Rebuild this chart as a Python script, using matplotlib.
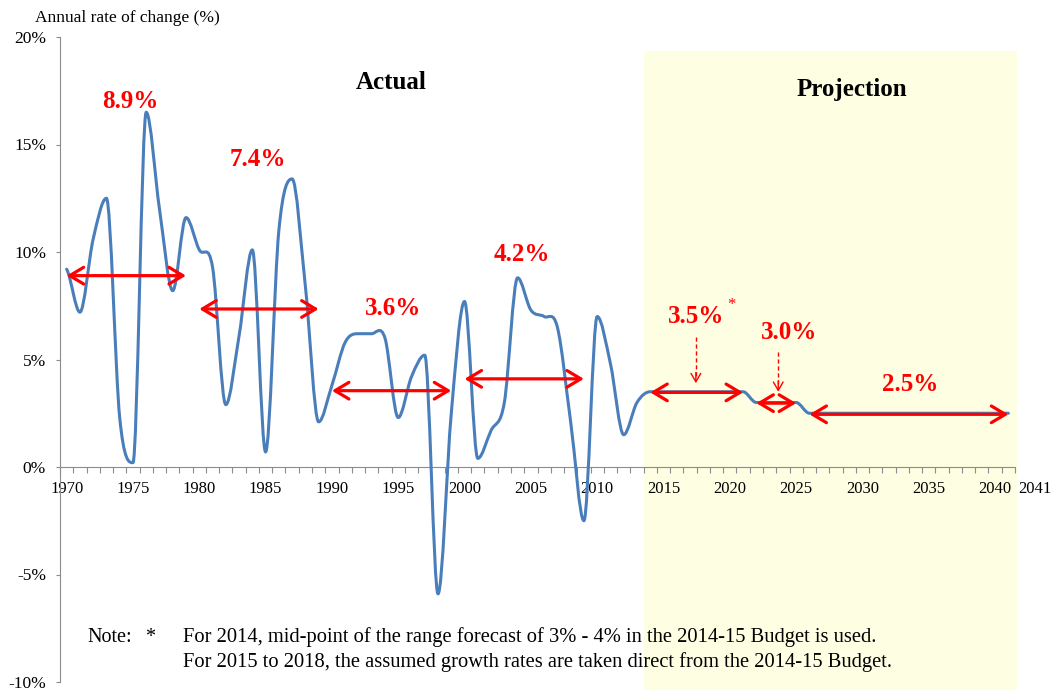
import matplotlib
matplotlib.use("Agg")
import matplotlib.pyplot as plt
from matplotlib.path import Path
from matplotlib.patches import PathPatch, Rectangle

# ---------------- data ----------------
years = list(range(1970, 2042))
growth = [9.2, 7.2, 10.6, 12.5, 2.3, 0.2, 16.5, 12.0, 8.2, 11.6,      # 1970-79
          10.1, 9.3, 2.9, 6.1, 10.1, 0.7, 11.0, 13.4, 8.4, 2.1,       # 1980-89
          3.8, 5.8, 6.2, 6.2, 6.0, 2.3, 4.2, 5.2, -5.9, 2.5,          # 1990-99
          7.7, 0.4, 1.7, 3.0, 8.8, 7.3, 7.0, 6.5, 2.1, -2.5,          # 2000-09
          7.0, 4.8, 1.5, 3.0,                                         # 2010-13
          3.5, 3.5, 3.5, 3.5, 3.5, 3.5, 3.5, 3.5,                     # 2014-21
          3.0, 3.0, 3.0, 3.0,                                         # 2022-25
          2.5, 2.5, 2.5, 2.5, 2.5, 2.5, 2.5, 2.5,                     # 2026-33
          2.5, 2.5, 2.5, 2.5, 2.5, 2.5, 2.5, 2.5]                     # 2034-41

x_tick_years = list(range(1970, 2041, 5))
x_tick_labels = [str(y) for y in x_tick_years]
last_year_label = "2041"
y_ticks = [-10, -5, 0, 5, 10, 15, 20]
y_tick_labels = ["-10%", "-5%", "0%", "5%", "10%", "15%", "20%"]

period_start = [1970, 1980, 1990, 2000, 2014, 2022, 2026]
period_end = [1979, 1989, 1999, 2009, 2021, 2025, 2041]
period_level = [8.9, 7.35, 3.55, 4.1, 3.47, 2.97, 2.45]
period_label = ["8.9%", "7.4%", "3.6%", "4.2%", "3.5%", "3.0%", "2.5%"]

projection_start = 2014

# ---------------- layout ----------------
label_pos = [(1974.8, 16.70), (1984.4, 14.0), (1994.6, 7.07), (2004.3, 9.6),
             (2017.45, 6.71), (2024.5, 5.94), (2033.6, 3.53)]
dashed_arrows = [(2017.44, 6.06, 3.9), (2023.65, 5.36, 3.5)]

FONT = "Liberation Serif"
plt.rcParams["font.family"] = [FONT, "DejaVu Serif"]

fig = plt.figure(figsize=(10.59, 6.9), dpi=100)
ax = fig.add_axes([60 / 1059, 8 / 690, 955 / 1059, 645 / 690])
ax.set_xlim(1969.5, 2041.5)
ax.set_ylim(-10, 20)

# shaded projection region
ax.add_patch(Rectangle((projection_start - 0.5, -10.4), 2041.65 - (projection_start - 0.5), 19.35 + 10.4,
                       facecolor="#FEFEE3", edgecolor="none", zorder=0, clip_on=False))

# smoothed line (Bezier through the data points, flat tangents at extrema)
n = len(years)
slopes = []
for i in range(n):
    if i == 0:
        m = (growth[1] - growth[0]) / 2
    elif i == n - 1:
        m = (growth[-1] - growth[-2]) / 2
    else:
        dp = growth[i] - growth[i - 1]
        dn = growth[i + 1] - growth[i]
        m = 0.0 if dp * dn <= 0 else (growth[i + 1] - growth[i - 1]) / 2
    slopes.append(m)
verts = [(years[0], growth[0])]
codes = [Path.MOVETO]
for i in range(n - 1):
    h = years[i + 1] - years[i]
    verts += [(years[i] + h / 3, growth[i] + slopes[i] * h / 3),
              (years[i + 1] - h / 3, growth[i + 1] - slopes[i + 1] * h / 3),
              (years[i + 1], growth[i + 1])]
    codes += [Path.CURVE4] * 3
ax.add_patch(PathPatch(Path(verts, codes), facecolor="none", edgecolor="#4A7EBB",
                       lw=2.2, zorder=3, capstyle="round", joinstyle="round"))

# spines & ticks
for s in ["top", "right"]:
    ax.spines[s].set_visible(False)
ax.spines["bottom"].set_position(("data", 0))
for s in ["bottom", "left"]:
    ax.spines[s].set_color("#8C8C8C")
    ax.spines[s].set_linewidth(0.8)

ax.set_xticks(x_tick_years)
ax.set_xticklabels(x_tick_labels, fontsize=12, family=FONT)
ax.set_xticks([y - 0.5 for y in range(1970, 2043)], minor=True)
ax.tick_params(axis="x", which="major", length=0, pad=10)
ax.tick_params(axis="x", which="minor", length=4, direction="out", color="#8C8C8C", width=0.8)
ax.set_yticks(y_ticks)
ax.set_yticklabels(y_tick_labels, fontsize=12.5, family=FONT)
ax.tick_params(axis="y", which="major", length=3, direction="out", color="#8C8C8C", width=0.8, pad=7)
ax.annotate(last_year_label, xy=(2041.5, 0), xytext=(2, -10), textcoords="offset points",
            ha="left", va="top", fontsize=12, family=FONT, annotation_clip=False)

# period arrows and labels
for s, e, lvl, lab, (lx, ly) in zip(period_start, period_end, period_level, period_label, label_pos):
    ax.annotate("", xy=(e, lvl), xytext=(s, lvl),
                arrowprops=dict(arrowstyle="<->,head_length=1.0,head_width=0.6",
                                color="#FF0000", lw=2.3, shrinkA=0, shrinkB=0,
                                mutation_scale=10), zorder=5)
    ax.text(lx, ly, lab, color="#FF0000", fontsize=18, fontweight="bold",
            ha="center", va="baseline", family=FONT, zorder=6)

# asterisk on 3.5%
ax.text(2020.1, 7.55, "*", color="#FF0000", fontsize=12, ha="center", va="center", family=FONT)

# dashed pointers
for x, y0, y1 in dashed_arrows:
    ax.plot([x, x], [y0, y1 + 0.3], color="#FF0000", lw=1.0, ls=(0, (3, 2)), zorder=5)
    ax.annotate("", xy=(x, y1), xytext=(x, y1 + 0.5),
                arrowprops=dict(arrowstyle="->,head_length=0.6,head_width=0.35",
                                color="#FF0000", lw=1.0, shrinkA=0, shrinkB=0,
                                mutation_scale=10), zorder=5)

# section titles
ax.text(1994.5, 17.57, "Actual", fontsize=18, fontweight="bold", ha="center", va="baseline", family=FONT)
ax.text(2029.2, 17.26, "Projection", fontsize=18, fontweight="bold", ha="center", va="baseline", family=FONT)

# axis title
fig.text(35 / 1059, 1 - 18 / 690, "Annual rate of change (%)", fontsize=12.5, ha="left", va="center", family=FONT)

# note
fig.text(87 / 1059, 1 - 642 / 690, "Note:", fontsize=14.5, ha="left", va="baseline", family=FONT)
fig.text(150 / 1059, 1 - 642 / 690, "*", fontsize=14.5, ha="center", va="baseline", family=FONT)
fig.text(183 / 1059, 1 - 642 / 690,
         "For 2014, mid-point of the range forecast of 3% - 4% in the 2014-15 Budget is used.",
         fontsize=14.8, ha="left", va="baseline", family=FONT)
fig.text(183 / 1059, 1 - 667 / 690,
         "For 2015 to 2018, the assumed growth rates are taken direct from the 2014-15 Budget.",
         fontsize=14.8, ha="left", va="baseline", family=FONT)

fig.savefig("out.png", dpi=100)
